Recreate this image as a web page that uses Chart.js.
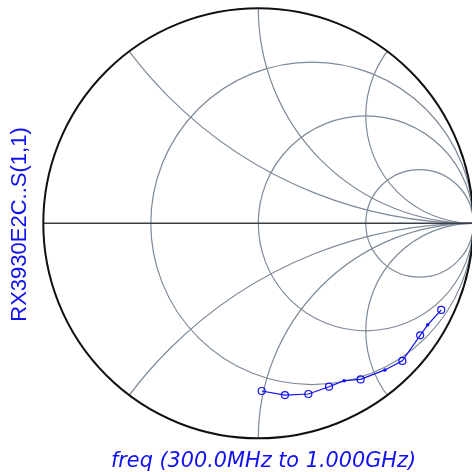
<!DOCTYPE html>
<html lang="en">
<head>
    <meta charset="UTF-8">
    <title>Smith chart S(1,1)</title>
    <script src="https://cdn.jsdelivr.net/npm/chart.js"></script>
    <style>
        html, body { margin: 0; padding: 0; background: white; }
        #smith { display: block; }
    </style>
</head>
<body>
    <canvas id="smith" width="472" height="472"></canvas>

    <script>
        const gammaRe = [0.016, 0.124, 0.233, 0.329, 0.399, 0.476, 0.589, 0.670, 0.753, 0.788, 0.851];
        const gammaIm = [-0.780, -0.799, -0.794, -0.760, -0.732, -0.726, -0.682, -0.640, -0.521, -0.472, -0.403];
        // true = open circle marker, false = small dot
        const circleMarker = [true, true, true, true, false, true, false, true, true, false, true];

        // smith grid
        const resistances = [1 / 3, 1, 3];
        const reactances = [0.5, 1, 2];

        const yTitle = "RX3930E2C..S(1,1)";
        const xTitle = "freq (300.0MHz to 1.000GHz)";

        const BLUE = "#1010f0";
        const GRID = "#7d8a99";

        const points = gammaRe.map((re, i) => ({ x: re, y: gammaIm[i] }));

        const smithGrid = {
            id: "smithGrid",
            beforeDatasetsDraw(chart) {
                const c = chart.ctx;
                const sx = chart.scales.x, sy = chart.scales.y;
                const px = v => sx.getPixelForValue(v);
                const py = v => sy.getPixelForValue(v);
                const unit = px(1) - px(0);

                c.save();
                // clip to the unit circle
                c.beginPath();
                c.arc(px(0), py(0), unit, 0, Math.PI * 2);
                c.clip();

                c.strokeStyle = GRID;
                c.lineWidth = 1.2;
                resistances.forEach(r => {
                    c.beginPath();
                    c.arc(px(r / (1 + r)), py(0), unit / (1 + r), 0, Math.PI * 2);
                    c.stroke();
                });
                reactances.forEach(x => {
                    [1, -1].forEach(s => {
                        c.beginPath();
                        c.arc(px(1), py(s / x), unit / x, 0, Math.PI * 2);
                        c.stroke();
                    });
                });
                c.restore();

                // real axis
                c.save();
                c.strokeStyle = "#3a3f46";
                c.lineWidth = 1.5;
                c.beginPath();
                c.moveTo(px(-1), py(0));
                c.lineTo(px(1), py(0));
                c.stroke();

                // outer r = 0 circle
                c.strokeStyle = "#111";
                c.lineWidth = 2;
                c.beginPath();
                c.arc(px(0), py(0), unit, 0, Math.PI * 2);
                c.stroke();
                c.restore();
            },
            afterDraw(chart) {
                const c = chart.ctx;
                c.save();
                c.fillStyle = BLUE;
                c.textAlign = "center";
                c.textBaseline = "alphabetic";

                c.font = "italic 20.8px 'DejaVu Sans'";
                c.fillText(xTitle, 263.5, 467);

                c.translate(26, 224.5);
                c.rotate(-Math.PI / 2);
                c.font = "22px 'Liberation Sans', Arial, sans-serif";
                c.fillText(yTitle, 0, 0);
                c.restore();
            }
        };

        const chart = new Chart(document.getElementById("smith"), {
            type: "scatter",
            data: {
                datasets: [{
                    label: "S(1,1)",
                    data: points,
                    showLine: true,
                    borderColor: BLUE,
                    borderWidth: 1.2,
                    pointRadius: circleMarker.map(c => c ? 3.5 : 1.8),
                    pointBorderWidth: circleMarker.map(c => c ? 1.2 : 0),
                    pointBorderColor: BLUE,
                    pointBackgroundColor: circleMarker.map(c => c ? "rgba(0,0,0,0)" : BLUE),
                    tension: 0,
                    clip: false
                }]
            },
            options: {
                responsive: false,
                animation: false,
                layout: {
                    autoPadding: false,
                    padding: { left: 43.3, top: 8.3, right: 0, bottom: 33.7 }
                },
                plugins: {
                    legend: { display: false },
                    tooltip: { enabled: false }
                },
                scales: {
                    x: { type: "linear", min: -1, max: 0.994, display: false },
                    y: { type: "linear", min: -1, max: 1, display: false }
                }
            },
            plugins: [smithGrid]
        });
    </script>
</body>
</html>
